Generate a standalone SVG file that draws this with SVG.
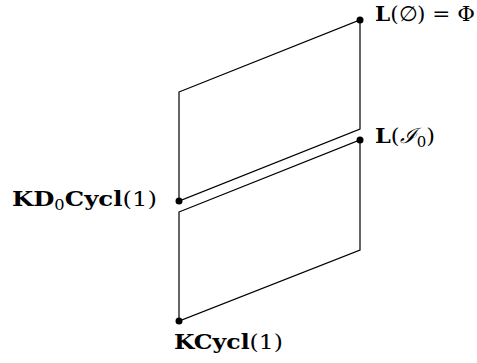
<svg xmlns="http://www.w3.org/2000/svg" width="477" height="363" viewBox="0 0 477 363">
<style>
.e{fill:none;stroke:#000;stroke-width:1.2}
.d{fill:#000}
text{font-family:"DejaVu Serif","Liberation Serif",serif;font-size:21px;fill:#000}
.b{font-weight:bold}
.s{font-size:14px}
</style>
<rect width="477" height="363" fill="#fff"/>
<g id="connectors">
<path class="e" d="M179,92 L360,20 L360,129 L179,201 Z"/>
<path class="e" d="M179,212 L360,140 L360,250 L179,321 Z"/>
</g>
<g id="n-empty">
<circle class="d" cx="360" cy="20" r="3.5"/>
<text x="375" y="21" textLength="100" lengthAdjust="spacingAndGlyphs"><tspan class="b">L</tspan>(∅) = Φ</text>
</g>
<g id="n-I0">
<circle class="d" cx="360" cy="140" r="3.5"/>
<text x="375" y="143" textLength="60" lengthAdjust="spacingAndGlyphs"><tspan class="b">L</tspan>(<tspan font-style="italic">ℐ</tspan><tspan class="s" dy="4">0</tspan><tspan dy="-4">)</tspan></text>
</g>
<g id="n-KD0">
<circle class="d" cx="179" cy="201" r="3.5"/>
<text x="12" y="206" textLength="145" lengthAdjust="spacingAndGlyphs"><tspan class="b">KD</tspan><tspan class="s" dy="4">0</tspan><tspan class="b" dy="-4">Cycl</tspan>(1)</text>
</g>
<g id="n-KCycl">
<circle class="d" cx="179" cy="321" r="3.5"/>
<text x="174" y="349" textLength="109" lengthAdjust="spacingAndGlyphs"><tspan class="b">KCycl</tspan>(1)</text>
</g>
</svg>
